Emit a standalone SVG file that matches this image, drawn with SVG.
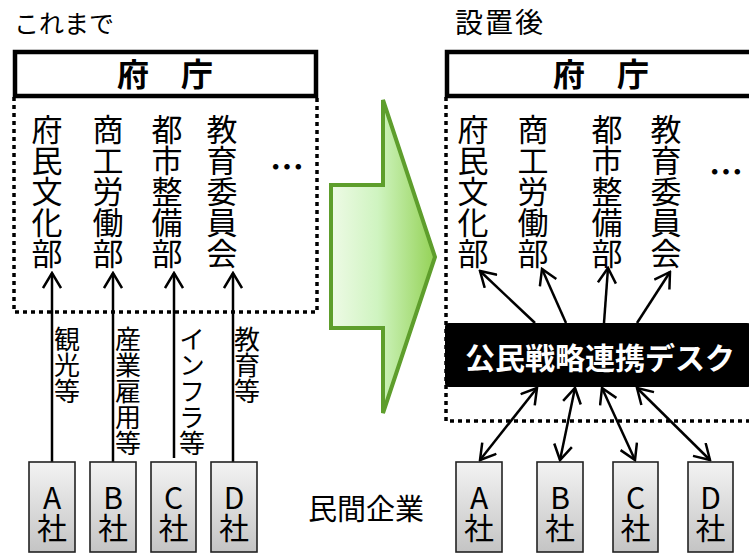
<svg xmlns="http://www.w3.org/2000/svg" width="749" height="553" viewBox="0 0 749 553">
<style>
text{font-family:"Noto Sans CJK JP","Noto Sans",sans-serif;fill:#000}
.ttl{font-size:25px}
.hd{font-size:32px;font-weight:bold;text-anchor:middle}
.dep{font-size:31px;writing-mode:vertical-rl}
.lbl{font-size:26px;writing-mode:vertical-rl}
.co{font-size:30px;writing-mode:vertical-rl;text-orientation:upright}
.dots{font-size:34px;font-weight:bold;text-anchor:middle}
.hbox{fill:#fff;stroke:#000;stroke-width:4.5}
.dotted{fill:none;stroke:#000;stroke-width:3.5;stroke-dasharray:4 4}
.cbox{fill:url(#cg);stroke:#222;stroke-width:1.6}
.con{stroke:#000;stroke-width:2.5;fill:none}
</style>
<defs>
<linearGradient id="cg" x1="0" y1="0" x2="0" y2="1">
<stop offset="0" stop-color="#f3f3f3"/><stop offset="1" stop-color="#c4c4c4"/>
</linearGradient>
<linearGradient id="gg" x1="0" y1="0" x2="1" y2="0">
<stop offset="0" stop-color="#eefae6"/><stop offset="0.45" stop-color="#cff4c0"/><stop offset="1" stop-color="#94d256"/>
</linearGradient>
<marker id="ah" viewBox="-16 -10 18 20" refX="0" refY="0" markerWidth="18" markerHeight="20" markerUnits="userSpaceOnUse" orient="auto-start-reverse">
<path d="M-15,-9 L0,0 L-15,9" fill="none" stroke="#000" stroke-width="2.5"/>
</marker>
</defs>
<rect width="749" height="553" fill="#fff"/>

<g id="title-left"><text class="ttl" x="14" y="33">これまで</text></g>
<g id="title-right"><text class="ttl" x="455" y="33" letter-spacing="2" style="font-size:28px">設置後</text></g>

<g id="gov-left">
<path class="dotted" d="M14,97 V312 H317 V97"/>
<rect class="hbox" x="15" y="52" width="301" height="44"/>
<text class="hd" x="165" y="86">府　庁</text>
</g>

<g id="gov-right">
<path class="dotted" d="M446,97 V421 H760"/>
<rect class="hbox" x="447" y="52" width="320" height="44"/>
<text class="hd" x="601" y="86">府　庁</text>
</g>

<g id="arrow-big">
<polygon points="331,185 383,185 383,100 435,257 383,413 383,328 331,328" fill="url(#gg)" stroke="#5e9e2c" stroke-width="4" stroke-linejoin="miter"/>
</g>

<g id="depts-left">
<text class="dep" x="47" y="113.5">府民文化部</text>
<text class="dep" x="108" y="113.5">商工労働部</text>
<text class="dep" x="167" y="113.5">都市整備部</text>
<text class="dep" x="222" y="113.5">教育委員会</text>
<text class="dots" x="287" y="180">…</text>
</g>

<g id="depts-right">
<text class="dep" x="473" y="113.5">府民文化部</text>
<text class="dep" x="533" y="113.5">商工労働部</text>
<text class="dep" x="607" y="113.5">都市整備部</text>
<text class="dep" x="666" y="113.5">教育委員会</text>
<text class="dots" x="726" y="185">…</text>
</g>

<g id="desk">
<rect x="445" y="323" width="306" height="64" rx="4" fill="#000"/>
<text x="600" y="369" text-anchor="middle" font-size="30" font-weight="bold" style="fill:#fff">公民戦略連携デスク</text>
</g>

<g id="connectors">
<line class="con" x1="52" y1="462" x2="52" y2="273" marker-end="url(#ah)"/>
<line class="con" x1="113" y1="462" x2="113" y2="273" marker-end="url(#ah)"/>
<line class="con" x1="174" y1="458" x2="174" y2="273" marker-end="url(#ah)"/>
<line class="con" x1="233" y1="462" x2="233" y2="273" marker-end="url(#ah)"/>
<line class="con" x1="535" y1="323" x2="480" y2="271" marker-end="url(#ah)"/>
<line class="con" x1="566" y1="323" x2="542" y2="269" marker-end="url(#ah)"/>
<line class="con" x1="604" y1="323" x2="608" y2="268" marker-end="url(#ah)"/>
<line class="con" x1="637" y1="323" x2="670" y2="272" marker-end="url(#ah)"/>
<line class="con" x1="537" y1="388" x2="480" y2="460" marker-start="url(#ah)" marker-end="url(#ah)"/>
<line class="con" x1="575" y1="388" x2="560" y2="460" marker-start="url(#ah)" marker-end="url(#ah)"/>
<line class="con" x1="602" y1="388" x2="635" y2="460" marker-start="url(#ah)" marker-end="url(#ah)"/>
<line class="con" x1="637" y1="388" x2="710" y2="460" marker-start="url(#ah)" marker-end="url(#ah)"/>
</g>

<g id="labels">
<text class="lbl" x="67" y="326">観光等</text>
<text class="lbl" x="128" y="326">産業雇用等</text>
<text class="lbl" x="192" y="326">インフラ等</text>
<text class="lbl" x="247" y="326">教育等</text>
</g>

<g id="private-label"><text x="366" y="520" text-anchor="middle" font-size="29">民間企業</text></g>

<g id="co-A-left"><rect class="cbox" x="29" y="462" width="46" height="90"/><text class="co" x="52" y="482.5">A社</text></g>
<g id="co-B-left"><rect class="cbox" x="90" y="462" width="46" height="90"/><text class="co" x="113" y="482.5">B社</text></g>
<g id="co-C-left"><rect class="cbox" x="151" y="462" width="45" height="90"/><text class="co" x="173.5" y="482.5">C社</text></g>
<g id="co-D-left"><rect class="cbox" x="211" y="462" width="46" height="90"/><text class="co" x="234" y="482.5">D社</text></g>

<g id="co-A-right"><rect class="cbox" x="456" y="462" width="46" height="90"/><text class="co" x="479" y="482.5">A社</text></g>
<g id="co-B-right"><rect class="cbox" x="537" y="462" width="46" height="90"/><text class="co" x="560" y="482.5">B社</text></g>
<g id="co-C-right"><rect class="cbox" x="613" y="462" width="45" height="90"/><text class="co" x="635.5" y="482.5">C社</text></g>
<g id="co-D-right"><rect class="cbox" x="688" y="462" width="45" height="90"/><text class="co" x="710.5" y="482.5">D社</text></g>
</svg>
